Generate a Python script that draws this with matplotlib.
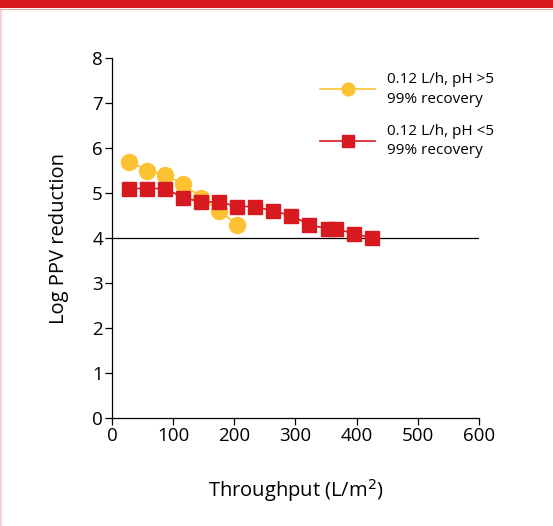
import matplotlib.pyplot as plt
from matplotlib.patches import Rectangle

plt.rcParams['font.family'] = ['Open Sans', 'DejaVu Sans']

# data
thru_hi = [28, 58, 87, 116, 146, 175, 205]
lrv_hi = [5.7, 5.5, 5.4, 5.2, 4.9, 4.6, 4.3]

thru_lo = [28, 58, 87, 116, 146, 175, 205, 234, 263, 293, 322, 353, 367, 395, 425]
lrv_lo = [5.1, 5.1, 5.1, 4.9, 4.8, 4.8, 4.7, 4.7, 4.6, 4.5, 4.3, 4.2, 4.2, 4.1, 4.0]

labels = ['0.12 L/h, pH >5\n99% recovery', '0.12 L/h, pH <5\n99% recovery']
yellow = '#fdc232'
red = '#d71920'

fig = plt.figure(figsize=(5.53, 5.26), dpi=100)
ax = fig.add_axes([0.2025, 0.2053, 0.6637, 0.6844])

# red banner on top, faint border on the left
fig.patches.append(Rectangle((0, 1 - 8 / 526), 1, 8 / 526, transform=fig.transFigure,
                             facecolor=red, edgecolor='none'))
fig.patches.append(Rectangle((0, 1 - 10 / 526), 1, 1.2 / 526, transform=fig.transFigure,
                             facecolor='#f2a0a3', edgecolor='none'))
fig.patches.append(Rectangle((0, 0), 1.5 / 553, 1 - 10 / 526, transform=fig.transFigure,
                             facecolor='#f7d0d1', edgecolor='none'))

ax.axhline(4, color='black', lw=0.9, zorder=1)

ax.plot(thru_hi, lrv_hi, color=yellow, lw=1.2, marker='o', markersize=11.5,
        markeredgecolor=yellow, label=labels[0], zorder=2)
ax.plot(thru_lo, lrv_lo, color=red, lw=1.2, marker='s', markersize=10.5,
        markeredgecolor=red, label=labels[1], zorder=3)

ax.set_xlim(0, 600)
ax.set_ylim(0, 8)
ax.set_xticks(range(0, 601, 100))
ax.set_yticks(range(0, 9))
ax.spines['top'].set_visible(False)
ax.spines['right'].set_visible(False)
for s in ['left', 'bottom']:
    ax.spines[s].set_linewidth(0.9)
ax.tick_params(direction='out', length=5, width=0.9, labelsize=13.5, pad=1.5)

ax.set_xlabel('Throughput (L/m$^2$)', fontsize=14.5, labelpad=23)
ax.set_ylabel('Log PPV reduction', fontsize=14.5, labelpad=17)

leg = ax.legend(loc='upper left', bbox_to_anchor=(0.53, 1.0), frameon=False,
                fontsize=11, handlelength=3.6, handletextpad=0.75,
                labelspacing=1.1, markerscale=0.8)
for t in leg.get_texts():
    t.set_linespacing(1.45)

fig.savefig('out.png', dpi=100)
